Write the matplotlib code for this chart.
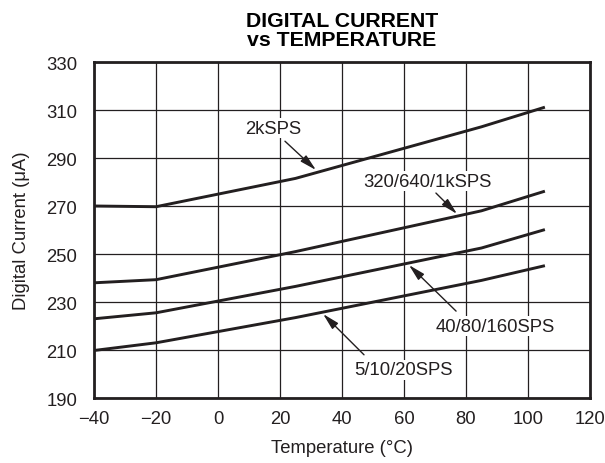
import matplotlib
matplotlib.use("Agg")
import matplotlib.pyplot as plt

plt.rcParams['font.family'] = ['Liberation Sans', 'DejaVu Sans']

temps = [-40, -20, 25, 85, 105]
sps_2k = [270.0, 269.7, 281.5, 303.0, 311.0]
sps_320 = [238.0, 239.3, 251.0, 268.0, 276.0]
sps_40 = [223.0, 225.5, 236.5, 252.5, 260.0]
sps_5 = [209.8, 213.0, 223.5, 239.0, 245.0]

series_labels = ["2kSPS", "320/640/1kSPS", "40/80/160SPS", "5/10/20SPS"]
x_ticks = [-40, -20, 0, 20, 40, 60, 80, 100, 120]
x_tick_labels = ["\u221240", "\u221220", "0", "20", "40", "60", "80", "100", "120"]
y_ticks = [190, 210, 230, 250, 270, 290, 310, 330]

ink = '#231f20'
fs = 13.3

fig = plt.figure(figsize=(6.05, 4.64), dpi=100)
ax = fig.add_axes([94/605, 1 - 399/464, (590-94)/605, (399-63)/464])

for ys in [sps_2k, sps_320, sps_40, sps_5]:
    ax.plot(temps, ys, color=ink, lw=2.1, solid_joinstyle='round', zorder=3)

ax.set_xlim(-40, 120)
ax.set_ylim(190, 330)
ax.set_xticks(x_ticks)
ax.set_xticklabels(x_tick_labels)
ax.set_yticks(y_ticks)
ax.grid(True, color=ink, lw=0.9)
ax.set_axisbelow(True)
ax.tick_params(axis='both', length=0, labelsize=fs, colors=ink)
ax.tick_params(axis='x', pad=9)
ax.tick_params(axis='y', pad=12)
for s in ax.spines.values():
    s.set_linewidth(2.0)
    s.set_color(ink)

ax.set_xlabel("Temperature (\u00b0C)", fontsize=fs, color=ink, labelpad=8)
ax.set_ylabel("Digital Current (\u03bcA)", fontsize=fs, color=ink, labelpad=12)

fig.text(342/605, 1 - 31/464, "DIGITAL CURRENT\nvs TEMPERATURE", ha='center', va='center',
         fontsize=15.3, fontweight='bold', color='black', linespacing=1.05)

annots = [
    (series_labels[0], (17.7, 302.5), (21.6, 297.0), (31.6, 285.0)),
    (series_labels[1], (67.4, 280.4), (70.3, 275.4), (77.1, 266.7)),
    (series_labels[2], (89.4, 220.0), (76.8, 226.2), (61.6, 245.4)),
    (series_labels[3], (59.7, 201.7), (47.1, 208.0), (33.9, 225.0)),
]
for label, tpos, tail, head in annots:
    ax.text(tpos[0], tpos[1], label, ha='center', va='center', fontsize=fs, color=ink,
            zorder=4, bbox=dict(facecolor='white', edgecolor='none', pad=1.0))
    ax.annotate('', xy=head, xytext=tail,
                arrowprops=dict(arrowstyle='-|>,head_length=1.0,head_width=0.25',
                                color=ink, lw=1.0, shrinkA=0, shrinkB=0), zorder=5)

fig.savefig("out.png", dpi=100, facecolor='white')
